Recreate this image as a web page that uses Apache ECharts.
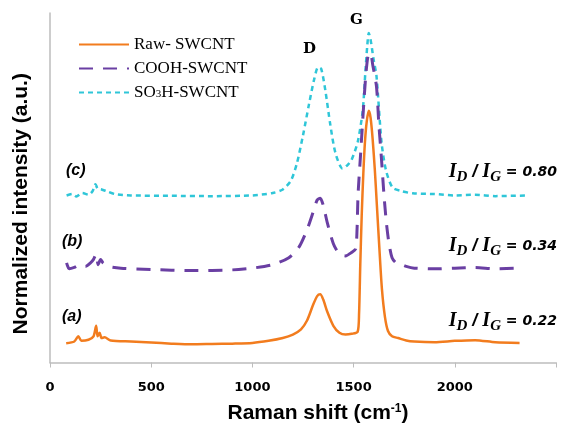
<!DOCTYPE html>
<html>
<head>
<meta charset="utf-8">
<script src="https://cdn.jsdelivr.net/npm/echarts@6/dist/echarts.min.js"></script>
<style>html,body{margin:0;padding:0;background:#fff;}#c{width:561px;height:429px;}</style>
</head>
<body>
<div id="c"></div>
<script>
// Raman shift (cm-1) and normalized intensity (arbitrary, offset stacks)
const rawX = [80,120,140,155,190,215,228,235,245,255,270,300,400,500,600,700,800,900,1000,1080,1150,1200,1240,1270,1300,1320,1335,1350,1370,1400,1430,1460,1490,1520,1527,1533,1540,1548,1556,1565,1575,1584,1594,1605,1615,1628,1640,1655,1670,1690,1720,1760,1800,1900,2000,2100,2200,2320];
const rawY = [5.5,6.0,7.5,6.2,6.5,7.5,10.5,7.5,8.5,7.0,7.2,6.3,6.0,5.7,5.4,5.2,5.3,5.4,5.6,6.2,7.0,8.0,9.5,12,16.5,19,19.5,18,14.5,10.5,8.5,8.0,8.2,8.8,14,28,42,54,63,69,72,70,64,55,45,32,21,13,9,7.5,7.0,6.3,6.0,5.8,6.2,6.4,5.8,5.6];

const coohX = [82,95,120,150,175,200,215,228,238,250,262,290,350,500,700,900,1000,1100,1180,1230,1270,1300,1320,1335,1350,1370,1400,1430,1460,1490,1510,1517,1522,1535,1548,1560,1572,1583,1595,1613,1625,1638,1650,1662,1675,1690,1710,1730,1760,1800,1900,2000,2100,2200,2320];
const coohY = [28.5,26.8,27.2,28.0,27.5,28.5,29.5,31,28.0,29.5,28.5,27.5,27.0,26.6,26.3,26.5,27.0,28.0,30,33,38,43,46.5,47,45,40,34,31,30.5,31.5,32.5,38,48,60,72,82,88,88.5,85,79,68,58,48,40,34,30,28.5,28.2,27.5,27,26.8,27,27.2,26.8,27];

const so3hX = [82,110,130,160,190,210,225,235,255,280,320,400,600,800,1000,1100,1150,1190,1220,1250,1280,1305,1325,1340,1360,1385,1410,1445,1470,1490,1520,1545,1558,1568,1575,1585,1598,1613,1638,1660,1693,1740,1792,1900,2000,2100,2200,2355];
const so3hY = [47.8,48.2,47.5,48.5,48.0,49.0,51,49.8,49.5,49,48.2,47.8,47.7,47.6,47.8,48.5,49.5,52,57,65,74,81,84.5,84,78,68,60,55.5,56.5,58,63,72,83,91,94.3,92,87,82,63,55,50,49,48.4,48.2,47.8,48,47.6,47.8];

const xTicks = [0,500,1000,1500,2000];
const seriesNames = ['Raw- SWCNT','COOH-SWCNT','SO3H-SWCNT'];
const ratios = ['0.80','0.34','0.22'];
const curveLabels = ['(c)','(b)','(a)'];

function pairs(xs, ys){ return xs.map((x,i)=>[x, ys[i]]); }

const chart = echarts.init(document.getElementById('c'), null, {renderer:'canvas'});

const ratioRich = {
  i: {fontFamily:'Liberation Serif', fontStyle:'italic', fontWeight:'bold', fontSize:20, color:'#000'},
  s: {fontFamily:'Liberation Serif', fontStyle:'italic', fontWeight:'bold', fontSize:15, color:'#000', padding:[10,0,0,0]},
  sl: {fontFamily:'Liberation Sans', fontStyle:'italic', fontWeight:'bold', fontSize:18, color:'#000'},
  e: {fontFamily:'DejaVu Sans', fontStyle:'italic', fontWeight:'bold', fontSize:14, color:'#000'}
};
function ratioText(v){ return '{i|I}{s|D}{sl| / }{i|I}{s|G}{e| = ' + v + '}'; }

const ratioTops = [162, 236, 311];
const labelPos = [[66,163],[62,234],[62,309]];

const graphics = [];
ratios.forEach((r,k)=>{
  graphics.push({type:'text', right:4, top:ratioTops[k], style:{text:ratioText(r), rich:ratioRich}});
});
curveLabels.forEach((t,k)=>{
  graphics.push({type:'text', left:labelPos[k][0], top:labelPos[k][1], style:{text:t, font:'italic bold 16px "Liberation Sans"', fill:'#000'}});
});
graphics.push({type:'text', left:303, top:42, style:{text:'D', font:'bold 15px "DejaVu Serif"', fill:'#000'}});
graphics.push({type:'text', left:350, top:13, style:{text:'G', font:'bold 15px "DejaVu Serif"', fill:'#000'}});

chart.setOption({
  animation:false,
  backgroundColor:'#fff',
  grid:{left:50, right:5, top:13, bottom:64, containLabel:false},
  legend:{
    orient:'vertical', left:73, top:31, itemWidth:50, itemHeight:14, itemGap:7,
    data:seriesNames,
    itemStyle:{opacity:0},
    formatter:function(n){ return n==='SO3H-SWCNT' ? '{n|SO}{b|3}{n|H-SWCNT}' : '{n|'+n+'}'; },
    textStyle:{
      color:'#000',
      rich:{
        n:{fontFamily:'Liberation Serif', fontSize:17, color:'#000'},
        b:{fontFamily:'Liberation Serif', fontSize:11, color:'#000', padding:[4,0,0,0]}
      }
    }
  },
  xAxis:{
    type:'value', min:0, max:2500, interval:500,
    name:'{a|Raman shift (cm}{b|-1}{a|)}', nameLocation:'middle', nameGap:40,
    nameTextStyle:{padding:[0,0,0,30], rich:{
      a:{fontFamily:'Liberation Sans', fontWeight:'bold', fontSize:21, color:'#000'},
      b:{fontFamily:'Liberation Sans', fontWeight:'bold', fontSize:12, color:'#000', padding:[0,0,10,0]}
    }},
    axisLine:{lineStyle:{color:'#bdbdbd', width:1.5}},
    axisTick:{show:true, length:5, lineStyle:{color:'#bdbdbd'}},
    axisLabel:{color:'#000', fontFamily:'Verdana, DejaVu Sans', fontWeight:'bold', fontSize:13, margin:19,
      formatter:function(v){ return xTicks.indexOf(v)>=0 ? String(v) : ''; }},
    splitLine:{show:false}
  },
  yAxis:{
    type:'value', min:0, max:100,
    name:'Normalized intensity (a.u.)', nameLocation:'middle', nameGap:18,
    nameTextStyle:{fontFamily:'Liberation Sans', fontWeight:'bold', fontSize:21, color:'#000', padding:[0,32,0,0]},
    axisLine:{show:true, lineStyle:{color:'#bdbdbd', width:1.5}},
    axisTick:{show:false}, axisLabel:{show:false}, splitLine:{show:false}
  },
  graphic:graphics,
  series:[
    {name:seriesNames[0], type:'line', data:pairs(rawX, rawY), symbol:'none', smooth:0.25,
     itemStyle:{color:'#F27C1E'}, lineStyle:{color:'#F27C1E', width:2.5}, z:3},
    {name:seriesNames[1], type:'line', data:pairs(coohX, coohY), symbol:'none', smooth:0.25,
     itemStyle:{color:'#6A3FA3'}, lineStyle:{color:'#6A3FA3', width:3, type:[14,10]}, z:2},
    {name:seriesNames[2], type:'line', data:pairs(so3hX, so3hY), symbol:'none', smooth:0.25,
     itemStyle:{color:'#2FC6D8'}, lineStyle:{color:'#2FC6D8', width:2.5, type:[5,4]}, z:1}
  ]
});
</script>
</body>
</html>
